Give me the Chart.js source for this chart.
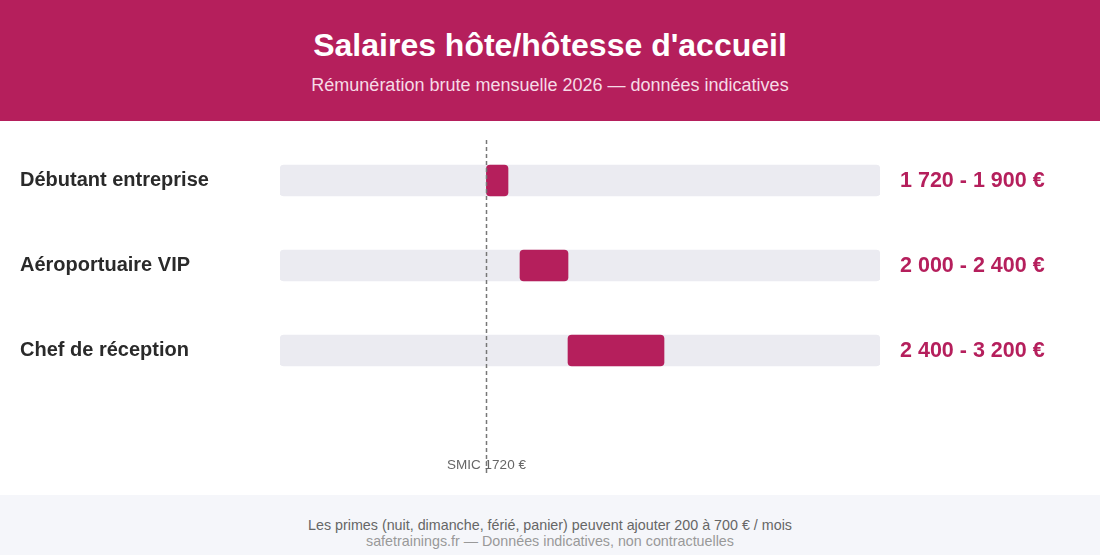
<!DOCTYPE html>
<html><head><meta charset="utf-8">
<script src="https://cdn.jsdelivr.net/npm/chart.js@4"></script>
<style>
body{margin:0;width:1100px;height:555px;font-family:"Liberation Sans",Arial,sans-serif;background:#fff;overflow:hidden}
.head{background:#b51f5c;height:121px;color:#fff;text-align:center}
.head h1{margin:0;padding-top:27px;font-size:32px;font-weight:bold}
.head p{margin:11px 0 0;font-size:18px;color:#f6dbe6}
.wrap{height:374px;position:relative}
.foot{background:#f5f6fa;height:60px;text-align:center;font-size:14.3px;color:#666;padding-top:22px;box-sizing:border-box;line-height:16px}
.foot .s{color:#999}
</style></head><body>
<div class="head"><h1>Salaires hôte/hôtesse d'accueil</h1><p>Rémunération brute mensuelle 2026 — données indicatives</p></div>
<div class="wrap"><canvas id="c" width="1100" height="374"></canvas></div>
<div class="foot">Les primes (nuit, dimanche, férié, panier) peuvent ajouter 200 à 700 € / mois<br><span class="s">safetrainings.fr — Données indicatives, non contractuelles</span></div>
<script>
const categories = ['Débutant entreprise', 'Aéroportuaire VIP', 'Chef de réception'];
const salaryMin = [1720, 2000, 2400];
const salaryMax = [1900, 2400, 3200];
const valueLabels = ['1 720 - 1 900 €', '2 000 - 2 400 €', '2 400 - 3 200 €'];
const scaleMax = 5000;
const smic = 1720;
const smicLabel = 'SMIC 1720 €';
const ACCENT = '#b51f5c';

const extras = {
  id: 'extras',
  afterDatasetsDraw(chart) {
    const { ctx, chartArea, scales: { x, y } } = chart;
    ctx.save();
    // valeurs à droite
    ctx.font = 'bold 21.5px "Liberation Sans", Arial';
    ctx.fillStyle = ACCENT;
    ctx.textBaseline = 'middle';
    ctx.textAlign = 'left';
    valueLabels.forEach((t, i) => ctx.fillText(t, chartArea.right + 20, y.getPixelForValue(i) + 1));
    // ligne SMIC
    const px = Math.round(x.getPixelForValue(smic)) + 0.5;
    ctx.strokeStyle = '#777';
    ctx.lineWidth = 1.5;
    ctx.setLineDash([4, 3]);
    ctx.beginPath();
    ctx.moveTo(px, 19);
    ctx.lineTo(px, 354);
    ctx.stroke();
    ctx.font = '13.5px "Liberation Sans", Arial';
    ctx.fillStyle = '#666';
    ctx.textAlign = 'center';
    ctx.fillText(smicLabel, px, 344);
    ctx.restore();
  }
};

new Chart(document.getElementById('c'), {
  type: 'bar',
  data: {
    labels: categories,
    datasets: [
      { data: salaryMin.map((v, i) => [v, salaryMax[i]]), backgroundColor: ACCENT, borderRadius: 4, borderSkipped: false, barThickness: 31 },
      { data: categories.map(() => [0, scaleMax]), backgroundColor: '#ebebf1', borderRadius: 4, borderSkipped: false, barThickness: 31 },
    ],
  },
  options: {
    responsive: false,
    animation: false,
    indexAxis: 'y',
    layout: { padding: { top: 17, bottom: 102, right: 220, left: 20 } },
    scales: {
      x: { display: false, min: 0, max: scaleMax, stacked: false },
      y: {
        stacked: true,
        grid: { display: false }, border: { display: false },
        ticks: { crossAlign: 'far', padding: 0, color: '#2a2a2a', font: { size: 20, weight: 'bold', family: '"Liberation Sans", Arial' } },
        afterFit(s) { s.width = 260; },
      },
    },
    plugins: { legend: { display: false }, tooltip: { enabled: false } },
  },
  plugins: [extras],
});
</script>
</body></html>
